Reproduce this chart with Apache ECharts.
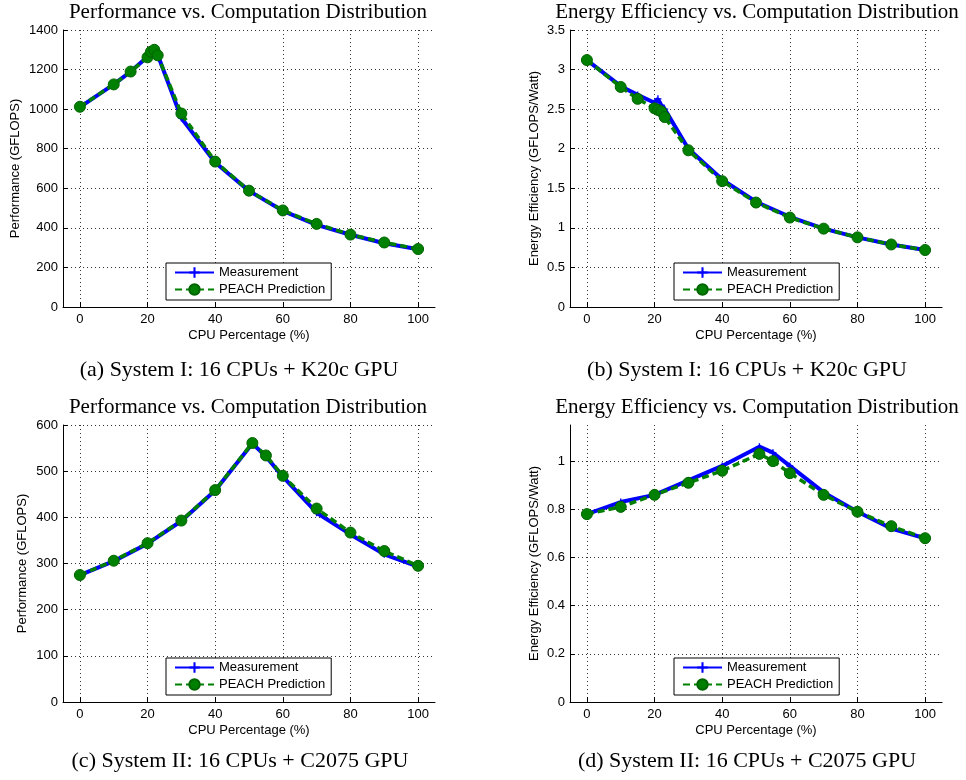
<!DOCTYPE html>
<html>
<head>
<meta charset="utf-8">
<script src="https://cdn.jsdelivr.net/npm/echarts@6/dist/echarts.min.js"></script>
<style>
html,body{margin:0;padding:0;background:#fff;}
#chart{width:966px;height:780px;}
</style>
</head>
<body>
<div id="chart"></div>
<script>
// ---------- Data ----------
const xSys1 = [0, 10, 15, 20, 21, 22, 23, 30, 40, 50, 60, 70, 80, 90, 100];
const perfSys1Meas = [1010, 1125, 1190, 1265, 1285, 1295, 1275, 955, 730, 587, 486, 415, 365, 322, 292];
const perfSys1Pred = [1012, 1125, 1190, 1262, 1290, 1300, 1272, 978, 735, 588, 488, 420, 366, 326, 293];
const effSys1Meas = [3.12, 2.79, 2.68, 2.58, 2.63, 2.55, 2.50, 2.00, 1.61, 1.33, 1.14, 0.99, 0.88, 0.79, 0.72];
const effSys1Pred = [3.12, 2.78, 2.63, 2.51, 2.49, 2.47, 2.40, 1.98, 1.59, 1.32, 1.13, 0.99, 0.88, 0.79, 0.72];

const xSys2 = [0, 10, 20, 30, 40, 51, 55, 60, 70, 80, 90, 100];
const perfSys2Meas = [275, 305, 343, 392, 458, 560, 532, 488, 410, 363, 320, 293];
const perfSys2Pred = [275, 306, 344, 393, 459, 561, 534, 490, 419, 367, 327, 295];
const effSys2Meas = [0.78, 0.83, 0.86, 0.92, 0.98, 1.06, 1.035, 0.98, 0.87, 0.79, 0.72, 0.68];
const effSys2Pred = [0.78, 0.81, 0.86, 0.91, 0.96, 1.03, 1.00, 0.95, 0.86, 0.79, 0.73, 0.68];

const panelTitles = [
  'Performance vs. Computation Distribution',
  'Energy Efficiency vs. Computation Distribution',
  'Performance vs. Computation Distribution',
  'Energy Efficiency vs. Computation Distribution'
];
const captions = [
  '(a) System I: 16 CPUs + K20c GPU',
  '(b) System I: 16 CPUs + K20c GPU',
  '(c) System II: 16 CPUs + C2075 GPU',
  '(d) System II: 16 CPUs + C2075 GPU'
];
const yNames = ['Performance (GFLOPS)', 'Energy Efficiency (GFLOPS/Watt)', 'Performance (GFLOPS)', 'Energy Efficiency (GFLOPS/Watt)'];
const xName = 'CPU Percentage (%)';
const seriesNames = ['Measurement', 'PEACH Prediction'];
const yMins = [0, 0, 0, 0];
const yMaxs = [1400, 3.5, 600, 1.15];
const yIntervals = [200, 0.5, 100, 0.2];

// ---------- Layout ----------
const grids = [
  {left: 63, top: 30, width: 372, height: 277},
  {left: 570, top: 30, width: 372, height: 277},
  {left: 63, top: 425, width: 372, height: 277},
  {left: 570, top: 425, width: 372, height: 277}
];
const yNameGaps = [41, 29, 34, 29];
const titlePos = [[248, 12], [757, 12], [248, 407], [757, 407]];
const captionPos = [[239, 370], [747, 370], [240, 761], [747, 761]];
const legendPos = [[166, 263], [674, 263], [166, 658], [674, 658]];

const panels = [
  {x: xSys1, meas: perfSys1Meas, pred: perfSys1Pred},
  {x: xSys1, meas: effSys1Meas, pred: effSys1Pred},
  {x: xSys2, meas: perfSys2Meas, pred: perfSys2Pred},
  {x: xSys2, meas: effSys2Meas, pred: effSys2Pred}
];

const sans = 'Liberation Sans, Arial, sans-serif';
const serif = 'Liberation Serif, Times New Roman, serif';
const gridLine = {show: true, showMinLine: false, showMaxLine: false, lineStyle: {color: '#333', width: 1, type: [1, 3]}};
const plusPath = 'path://M4,0 L6,0 L6,4 L10,4 L10,6 L6,6 L6,10 L4,10 L4,6 L0,6 L0,4 L4,4 Z';
const plainNum = v => String(Math.round(v * 1000) / 1000);

const xAxes = [], yAxes = [], series = [], legends = [], graphics = [];
panels.forEach((p, i) => {
  xAxes.push({
    type: 'value', gridIndex: i, min: -5, max: 105,
    name: xName, nameLocation: 'middle', nameGap: 22,
    nameTextStyle: {fontFamily: sans, fontSize: 13, color: '#000'},
    axisLine: {show: true, onZero: false, lineStyle: {color: '#000', width: 1}},
    axisTick: {show: true, inside: true, length: 5, lineStyle: {color: '#000'}},
    axisLabel: {fontFamily: sans, fontSize: 13, color: '#000', margin: 6, showMinLabel: false, showMaxLabel: false, formatter: plainNum},
    splitLine: gridLine
  });
  yAxes.push({
    type: 'value', gridIndex: i, min: yMins[i], max: yMaxs[i], interval: yIntervals[i],
    name: yNames[i], nameLocation: 'middle', nameGap: yNameGaps[i], nameRotate: 90,
    nameTextStyle: {fontFamily: sans, fontSize: 13, color: '#000'},
    axisLine: {show: true, onZero: false, lineStyle: {color: '#000', width: 1}},
    axisTick: {show: true, inside: true, length: 5, lineStyle: {color: '#000'}},
    axisLabel: {fontFamily: sans, fontSize: 13, color: '#000', margin: 5, showMaxLabel: i !== 3, formatter: plainNum},
    splitLine: Object.assign({}, gridLine, {showMinLine: false, showMaxLine: i !== 3})
  });
  series.push({
    name: seriesNames[0], type: 'line', xAxisIndex: i, yAxisIndex: i,
    data: p.x.map((xv, k) => [xv, p.meas[k]]),
    symbol: plusPath, symbolSize: 7,
    itemStyle: {color: '#0000ff'},
    lineStyle: {color: '#0000ff', width: 4},
    z: 2, animation: false
  });
  series.push({
    name: seriesNames[1], type: 'line', xAxisIndex: i, yAxisIndex: i,
    data: p.x.map((xv, k) => [xv, p.pred[k]]),
    symbol: 'circle', symbolSize: 11,
    itemStyle: {color: '#008000', borderColor: '#006400', borderWidth: 1},
    lineStyle: {color: '#008000', width: 3.5, type: [7, 4]},
    z: 3, animation: false
  });
  legends.push({
    data: seriesNames, orient: 'vertical',
    left: legendPos[i][0], top: legendPos[i][1],
    itemWidth: 39, itemHeight: 13, itemGap: 4,
    padding: [3, 6, 4, 8],
    backgroundColor: '#fff', borderColor: '#000', borderWidth: 1,
    textStyle: {fontFamily: sans, fontSize: 13, color: '#000'},
    selectedMode: false
  });
  graphics.push({
    type: 'text', x: titlePos[i][0], y: titlePos[i][1],
    style: {text: panelTitles[i], font: '21px ' + serif, fill: '#000', textAlign: 'center', textVerticalAlign: 'middle'}
  });
  graphics.push({
    type: 'text', x: captionPos[i][0], y: captionPos[i][1],
    style: {text: captions[i], font: '22px ' + serif, fill: '#000', textAlign: 'center', textVerticalAlign: 'middle'}
  });
});

const chart = echarts.init(document.getElementById('chart'), null, {renderer: 'canvas'});
chart.setOption({
  animation: false,
  backgroundColor: '#fff',
  grid: grids,
  xAxis: xAxes,
  yAxis: yAxes,
  legend: legends,
  series: series,
  graphic: graphics
});
</script>
</body>
</html>
